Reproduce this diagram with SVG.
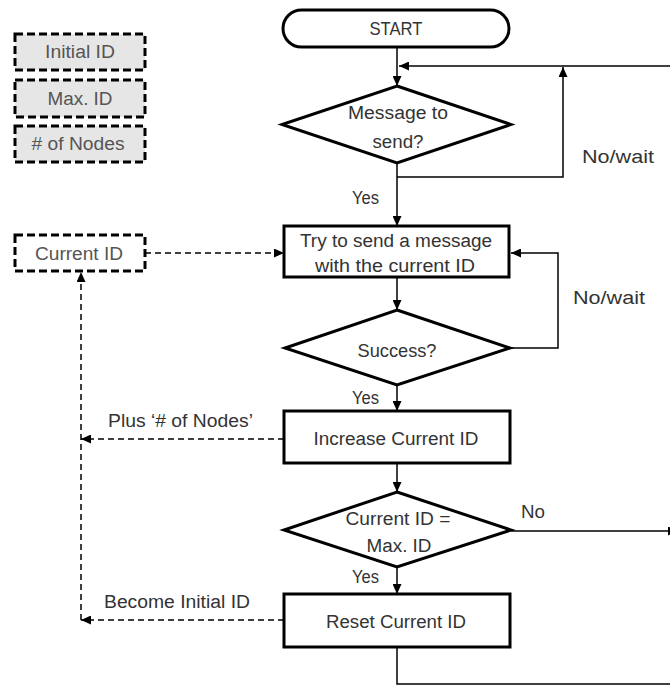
<svg xmlns="http://www.w3.org/2000/svg" width="670" height="686" viewBox="0 0 670 686">
<style>
text{font-family:"Liberation Sans",Arial,sans-serif;font-size:18px;fill:#333}
.c{text-anchor:middle}
.lg{fill:#555}
.shape{fill:#fff;stroke:#000;stroke-width:3}
.legend{fill:#e6e6e6;stroke:#000;stroke-width:3;stroke-dasharray:8 4}
.var{fill:#fff;stroke:#000;stroke-width:3;stroke-dasharray:8 4}
.ln{fill:none;stroke:#000;stroke-width:1.5}
.dash{fill:none;stroke:#000;stroke-width:1.5;stroke-dasharray:6 4}
</style>
<defs>
<marker id="ah" markerUnits="userSpaceOnUse" markerWidth="10" markerHeight="9" refX="10" refY="4.5" orient="auto">
<path d="M0,0 L10,4.5 L0,9 z" fill="#000"/>
</marker>
</defs>
<g id="connectors">
<path class="ln" d="M397,47 V86" marker-end="url(#ah)"/>
<path class="ln" d="M670,66 H399" marker-end="url(#ah)"/>
<path class="ln" d="M397,177 H563 V67" marker-end="url(#ah)"/>
<path class="ln" d="M397,163 V226" marker-end="url(#ah)"/>
<path class="ln" d="M397,277 V310" marker-end="url(#ah)"/>
<path class="ln" d="M510,348 H558 V253 H511" marker-end="url(#ah)"/>
<path class="ln" d="M397,385 V411" marker-end="url(#ah)"/>
<path class="ln" d="M397,463 V492" marker-end="url(#ah)"/>
<path class="ln" d="M511,531 H678" marker-end="url(#ah)"/>
<path class="ln" d="M397,567 V594" marker-end="url(#ah)"/>
<path class="ln" d="M397,647 V684 H670"/>
<path class="dash" d="M145,253 H284" marker-end="url(#ah)"/>
<path class="dash" d="M284,439 H81" marker-end="url(#ah)"/>
<path class="dash" d="M284,620 H81" marker-end="url(#ah)"/>
<path class="dash" d="M81,620 V272" marker-end="url(#ah)"/>
</g>
<g id="labels">
<text x="582" y="163" textLength="72" lengthAdjust="spacingAndGlyphs">No/wait</text>
<text x="352" y="204" textLength="27" lengthAdjust="spacingAndGlyphs">Yes</text>
<text x="573" y="304" textLength="72" lengthAdjust="spacingAndGlyphs">No/wait</text>
<text x="352" y="404" textLength="27" lengthAdjust="spacingAndGlyphs">Yes</text>
<text x="108" y="427" textLength="145" lengthAdjust="spacingAndGlyphs">Plus  ‘# of Nodes’</text>
<text x="521" y="518" textLength="24" lengthAdjust="spacingAndGlyphs">No</text>
<text x="352" y="583" textLength="27" lengthAdjust="spacingAndGlyphs">Yes</text>
<text x="104" y="608" textLength="146" lengthAdjust="spacingAndGlyphs">Become Initial ID</text>
</g>
<g id="initial-id">
<rect class="legend" x="15" y="34" width="130" height="36"/>
<text class="c lg" x="80" y="58" textLength="70" lengthAdjust="spacingAndGlyphs">Initial ID</text>
</g>
<g id="max-id">
<rect class="legend" x="15" y="80" width="130" height="37"/>
<text class="c lg" x="80" y="105" textLength="65" lengthAdjust="spacingAndGlyphs">Max. ID</text>
</g>
<g id="num-nodes">
<rect class="legend" x="15" y="126" width="130" height="36"/>
<text class="c lg" x="78" y="150" textLength="93" lengthAdjust="spacingAndGlyphs"># of Nodes</text>
</g>
<g id="current-id">
<rect class="var" x="15" y="235" width="130" height="36"/>
<text class="c lg" x="79" y="260" textLength="88" lengthAdjust="spacingAndGlyphs">Current  ID</text>
</g>
<g id="start">
<rect class="shape" x="283" y="10" width="226" height="37" rx="18.5"/>
<text class="c" x="396" y="35" textLength="53" lengthAdjust="spacingAndGlyphs">START</text>
</g>
<g id="message-to-send">
<polygon class="shape" points="397,86 511,124.5 397,163 282,124.5"/>
<text class="c" x="398" y="119" textLength="100" lengthAdjust="spacingAndGlyphs">Message to</text>
<text class="c" x="398" y="148" textLength="51" lengthAdjust="spacingAndGlyphs">send?</text>
</g>
<g id="try-send">
<rect class="shape" x="284" y="226" width="225" height="51"/>
<text class="c" x="396" y="247" textLength="192" lengthAdjust="spacingAndGlyphs">Try to send a message</text>
<text class="c" x="395" y="272" textLength="160" lengthAdjust="spacingAndGlyphs">with the current  ID</text>
</g>
<g id="success">
<polygon class="shape" points="397,310 510,348 397,385 285,348"/>
<text class="c" x="397" y="357" textLength="79" lengthAdjust="spacingAndGlyphs">Success?</text>
</g>
<g id="increase">
<rect class="shape" x="284" y="411" width="226" height="52"/>
<text class="c" x="396" y="445" textLength="165" lengthAdjust="spacingAndGlyphs">Increase Current ID</text>
</g>
<g id="check-max">
<polygon class="shape" points="397,492 511,530 397,567 284,530"/>
<text class="c" x="398" y="525" textLength="105" lengthAdjust="spacingAndGlyphs">Current  ID =</text>
<text class="c" x="399" y="552" textLength="65" lengthAdjust="spacingAndGlyphs">Max. ID</text>
</g>
<g id="reset">
<rect class="shape" x="284" y="594" width="226" height="53"/>
<text class="c" x="396" y="628" textLength="140" lengthAdjust="spacingAndGlyphs">Reset Current ID</text>
</g>
</svg>
